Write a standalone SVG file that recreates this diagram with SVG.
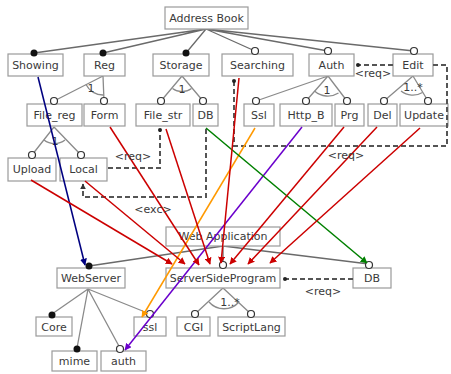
<svg xmlns="http://www.w3.org/2000/svg" width="451" height="374" viewBox="0 0 451 374">
<style>
.box{fill:#fff;stroke:#9a9a9a;stroke-width:1.2}
.t{font-family:"DejaVu Sans",Verdana,sans-serif;font-size:11px;fill:#3a3a3a;text-anchor:middle}
.s{font-family:"DejaVu Sans",Verdana,sans-serif;font-size:11px;fill:#3a3a3a;text-anchor:middle}
.tree{stroke:#8a8a8a;stroke-width:1.3;fill:none}
.top{stroke:#6a6a6a;stroke-width:1.3;fill:none}
.open{fill:#fff;stroke:#333;stroke-width:1.2}
.fill{fill:#111}
.dash{stroke:#555;stroke-width:2;stroke-dasharray:5,3;fill:none}
.red{stroke:#cc0000;stroke-width:1.5;fill:none}
</style>
<defs>
<marker id="ar" viewBox="0 0 10 10" refX="9" refY="5" markerWidth="7" markerHeight="7" orient="auto" markerUnits="userSpaceOnUse"><path d="M0,0L10,5L0,10z" fill="#cc0000"/></marker>
<marker id="ab" viewBox="0 0 10 10" refX="9" refY="5" markerWidth="7" markerHeight="7" orient="auto" markerUnits="userSpaceOnUse"><path d="M0,0L10,5L0,10z" fill="#000080"/></marker>
<marker id="ao" viewBox="0 0 10 10" refX="9" refY="5" markerWidth="7" markerHeight="7" orient="auto" markerUnits="userSpaceOnUse"><path d="M0,0L10,5L0,10z" fill="#ff9900"/></marker>
<marker id="ap" viewBox="0 0 10 10" refX="9" refY="5" markerWidth="7" markerHeight="7" orient="auto" markerUnits="userSpaceOnUse"><path d="M0,0L10,5L0,10z" fill="#6a00cc"/></marker>
<marker id="ag" viewBox="0 0 10 10" refX="9" refY="5" markerWidth="7" markerHeight="7" orient="auto" markerUnits="userSpaceOnUse"><path d="M0,0L10,5L0,10z" fill="#008000"/></marker>
<marker id="ad" viewBox="0 0 10 10" refX="5" refY="5" markerWidth="4" markerHeight="4" orient="auto" markerUnits="userSpaceOnUse"><circle cx="5" cy="5" r="5" fill="#222"/></marker>
<marker id="aa" viewBox="0 0 10 10" refX="9" refY="5" markerWidth="6" markerHeight="6" orient="auto" markerUnits="userSpaceOnUse"><path d="M0,0L10,5L0,10z" fill="#333"/></marker>
</defs>

<g id="tree-links">
<path class="top" d="M206,29L34,53M206,29L103,53M206,29L186,53M206,29L255,51M206,29L328,51M206,29L414,51"/>
<path class="tree" d="M103,76L54,101M103,76L104,101"/>
<path class="tree" d="M86,84.5A19,19 0 0 0 103.7,95"/>
<path class="tree" d="M182,76L161,101M182,76L203,101"/>
<path class="tree" d="M172.5,88.5A16,16 0 0 0 191.5,88.5"/>
<path class="tree" d="M328,76L256,101M328,76L306,101M328,76L347,101"/>
<path class="tree" d="M314.5,91A20,20 0 0 0 338.5,93"/>
<path class="tree" d="M413,76L384,101M413,76L428,101"/>
<path class="tree" d="M401,91A19,19 0 0 0 422.5,92.5"/>
<path class="tree" d="M54,127L32,155M54,127L81,155"/>
<path class="tree" d="M44,140A17,17 0 0 0 65,140"/>
<path class="top" d="M223,246L89,266M223,246L223,264M223,246L369,264"/>
<path class="tree" d="M88,289L52,314M88,289L77,348M88,289L120,348M88,289L150,314"/>
<path class="tree" d="M223,288L195,314M223,288L251,314"/>
<path class="tree" d="M209,302A20,20 0 0 0 239,302"/>
<text class="s" x="91" y="92">1</text>
<text class="s" x="182" y="93">1</text>
<text class="s" x="327" y="94">1</text>
<text class="s" x="413" y="91">1..*</text>
<text class="s" x="55" y="145">1</text>
<text class="s" x="230" y="306">1..*</text>
</g>

<g id="n-addressbook"><rect class="box" x="165" y="7" width="83" height="22"/><text class="t" x="206.5" y="22">Address Book</text></g>
<g id="n-showing"><rect class="box" x="8" y="54" width="55" height="22"/><text class="t" x="35.5" y="69">Showing</text><circle class="fill" cx="34" cy="53" r="3.5"/></g>
<g id="n-reg"><rect class="box" x="84" y="54" width="41" height="22"/><text class="t" x="104.5" y="69">Reg</text><circle class="fill" cx="103" cy="53" r="3.5"/></g>
<g id="n-storage"><rect class="box" x="153" y="54" width="56" height="22"/><text class="t" x="181" y="69">Storage</text><circle class="fill" cx="186" cy="53" r="3.5"/></g>
<g id="n-searching"><rect class="box" x="222" y="54" width="71" height="22"/><text class="t" x="257.5" y="69">Searching</text><circle class="open" cx="255" cy="51" r="3.5"/></g>
<g id="n-auth"><rect class="box" x="309" y="54" width="45" height="22"/><text class="t" x="331.5" y="69">Auth</text><circle class="open" cx="328" cy="51" r="3.5"/></g>
<g id="n-edit"><rect class="box" x="393" y="54" width="40" height="22"/><text class="t" x="413" y="69">Edit</text><circle class="open" cx="414" cy="51" r="3.5"/></g>

<g id="n-filereg"><rect class="box" x="27" y="104" width="55" height="22"/><text class="t" x="54.5" y="119">File_reg</text><circle class="open" cx="54" cy="101" r="3.5"/></g>
<g id="n-form"><rect class="box" x="84" y="104" width="41" height="22"/><text class="t" x="104.5" y="119">Form</text><circle class="open" cx="104" cy="101" r="3.5"/></g>
<g id="n-filestr"><rect class="box" x="136" y="104" width="54" height="22"/><text class="t" x="163" y="119">File_str</text><circle class="open" cx="161" cy="101" r="3.5"/></g>
<g id="n-db1"><rect class="box" x="193" y="104" width="25" height="22"/><text class="t" x="205.5" y="119">DB</text><circle class="open" cx="203" cy="101" r="3.5"/></g>
<g id="n-ssl1"><rect class="box" x="244" y="104" width="30" height="22"/><text class="t" x="259" y="119">Ssl</text><circle class="open" cx="256" cy="101" r="3.5"/></g>
<g id="n-httpb"><rect class="box" x="280" y="104" width="52" height="22"/><text class="t" x="306" y="119">Http_B</text><circle class="open" cx="306" cy="101" r="3.5"/></g>
<g id="n-prg"><rect class="box" x="335" y="104" width="29" height="22"/><text class="t" x="349.5" y="119">Prg</text><circle class="open" cx="347" cy="101" r="3.5"/></g>
<g id="n-del"><rect class="box" x="368" y="104" width="29" height="22"/><text class="t" x="382.5" y="119">Del</text><circle class="open" cx="384" cy="101" r="3.5"/></g>
<g id="n-update"><rect class="box" x="400" y="104" width="48" height="22"/><text class="t" x="424" y="119">Update</text><circle class="open" cx="428" cy="101" r="3.5"/></g>

<g id="n-upload"><rect class="box" x="8" y="158" width="48" height="23"/><text class="t" x="32" y="173">Upload</text><circle class="open" cx="32" cy="155" r="3.5"/></g>
<g id="n-local"><rect class="box" x="60" y="158" width="47" height="23"/><text class="t" x="83.5" y="173">Local</text><circle class="open" cx="81" cy="155" r="3.5"/></g>

<g id="n-webapp"><rect class="box" x="166" y="227" width="114" height="19"/><text class="t" x="223" y="240">Web Application</text></g>
<g id="n-webserver"><rect class="box" x="57" y="268" width="68" height="20"/><text class="t" x="91" y="282">WebServer</text><circle class="fill" cx="89" cy="266" r="3.5"/></g>
<g id="n-ssp"><rect class="box" x="166" y="268" width="114" height="20"/><text class="t" x="223" y="282">ServerSideProgram</text><circle class="open" cx="223" cy="265" r="3.5"/></g>
<g id="n-db2"><rect class="box" x="353" y="268" width="38" height="20"/><text class="t" x="372" y="282">DB</text><circle class="open" cx="369" cy="265" r="3.5"/></g>
<g id="n-core"><rect class="box" x="36" y="317" width="36" height="19"/><text class="t" x="54" y="331">Core</text><circle class="fill" cx="52" cy="315" r="3.5"/></g>
<g id="n-ssl2"><rect class="box" x="134" y="317" width="32" height="19"/><text class="t" x="150" y="331">ssl</text><circle class="open" cx="150" cy="314" r="3.5"/></g>
<g id="n-cgi"><rect class="box" x="177" y="317" width="33" height="19"/><text class="t" x="193.5" y="331">CGI</text><circle class="open" cx="195" cy="314" r="3.5"/></g>
<g id="n-scriptlang"><rect class="box" x="218" y="317" width="67" height="19"/><text class="t" x="251.5" y="331">ScriptLang</text><circle class="open" cx="251" cy="314" r="3.5"/></g>
<g id="n-mime"><rect class="box" x="52" y="351" width="45" height="20"/><text class="t" x="74.5" y="365">mime</text><circle class="fill" cx="77" cy="349" r="3.5"/></g>
<g id="n-auth2"><rect class="box" x="101" y="351" width="45" height="20"/><text class="t" x="123.5" y="365">auth</text><circle class="open" cx="120" cy="349" r="3.5"/></g>

<g id="connectors">
<path class="dash" d="M393,65L358,65" marker-end="url(#ad)"/>
<path class="dash" d="M433,65L447,65L447,146L234,146L234,81" marker-end="url(#ad)"/>
<path class="dash" d="M108,168L160,168L160,130" marker-end="url(#ad)"/>
<path class="dash" d="M206,129L206,197L83,197L83,184" marker-end="url(#aa)"/>
<path class="dash" d="M353,279L285,279" marker-end="url(#ad)"/>
<line x1="38" y1="77" x2="85" y2="265" stroke="#000080" stroke-width="1.5" marker-end="url(#ab)"/>
<line x1="255" y1="128" x2="142" y2="317" stroke="#ff9900" stroke-width="1.5" marker-end="url(#ao)"/>
<line x1="302" y1="127" x2="125" y2="350" stroke="#6a00cc" stroke-width="1.5" marker-end="url(#ap)"/>
<line x1="206" y1="128" x2="367" y2="263" stroke="#008000" stroke-width="1.5" marker-end="url(#ag)"/>
<line class="red" x1="31" y1="180" x2="172" y2="264" marker-end="url(#ar)"/>
<line class="red" x1="85" y1="181" x2="185" y2="264" marker-end="url(#ar)"/>
<line class="red" x1="110" y1="127" x2="199" y2="265" marker-end="url(#ar)"/>
<line class="red" x1="166" y1="129" x2="210" y2="264" marker-end="url(#ar)"/>
<line class="red" x1="239" y1="78" x2="221" y2="263" marker-end="url(#ar)"/>
<line class="red" x1="344" y1="127" x2="230" y2="264" marker-end="url(#ar)"/>
<line class="red" x1="377" y1="127" x2="248" y2="264" marker-end="url(#ar)"/>
<line class="red" x1="420" y1="128" x2="270" y2="263" marker-end="url(#ar)"/>
<text class="s" x="373" y="77">&lt;req&gt;</text>
<text class="s" x="346" y="159">&lt;req&gt;</text>
<text class="s" x="133" y="160">&lt;req&gt;</text>
<text class="s" x="153" y="213">&lt;exc&gt;</text>
<text class="s" x="323" y="295">&lt;req&gt;</text>
</g>
</svg>
